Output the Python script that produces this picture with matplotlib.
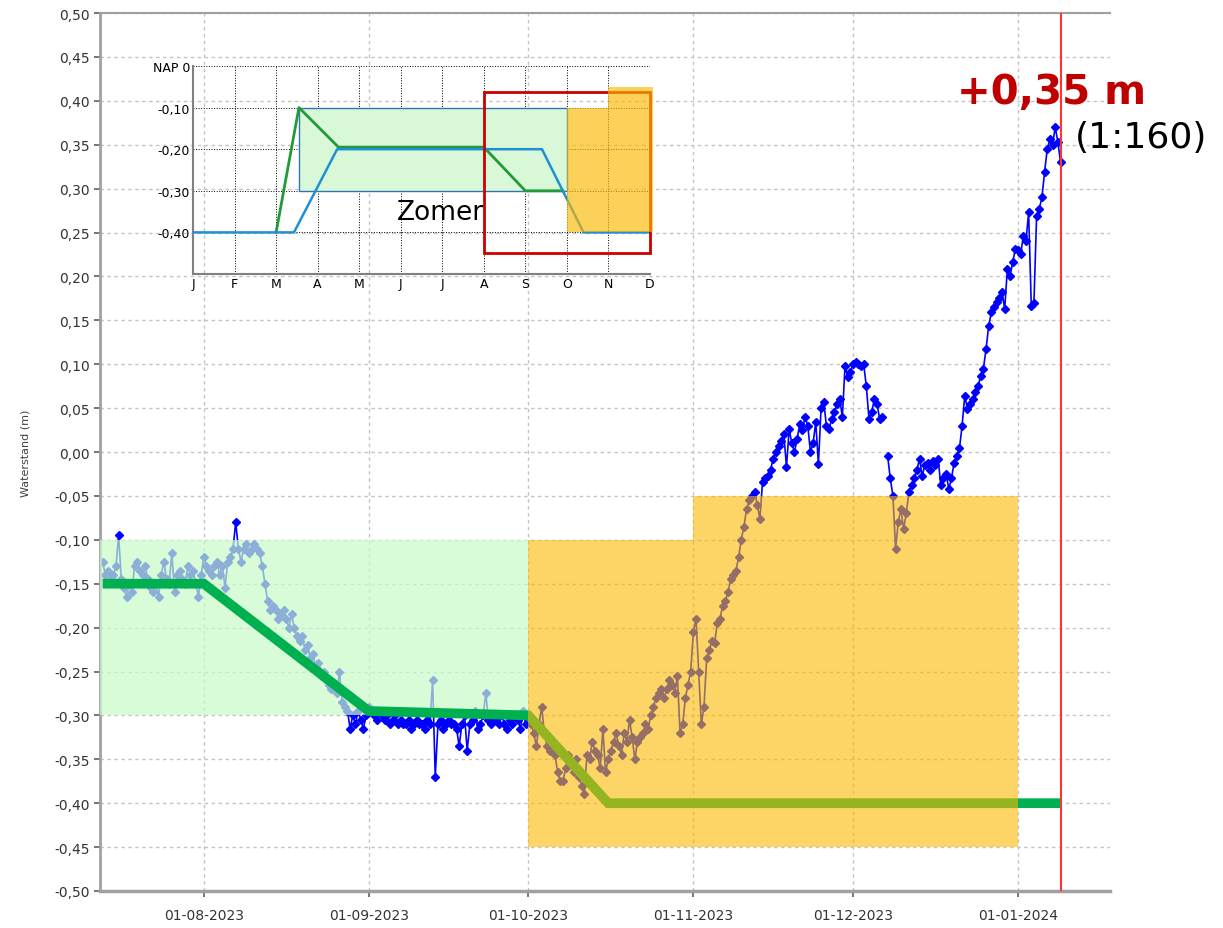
import numpy as np
import pandas as pd
import matplotlib
matplotlib.use("Agg")
import matplotlib.pyplot as plt
import matplotlib.dates as mdates
from matplotlib.patches import Rectangle
from matplotlib.ticker import FuncFormatter

# measured water level (m NAP), two readings per day, one list per month
level_jul = [  # 13-31 Jul 2023
    -0.125, -0.14, -0.135, -0.145, -0.14, -0.13, -0.095, -0.145, -0.155, -0.165,
    -0.15, -0.16, -0.13, -0.125, -0.135, -0.14, -0.13, -0.145, -0.155, -0.16,
    -0.15, -0.165, -0.14, -0.125, -0.145, -0.15, -0.115, -0.16, -0.14, -0.135,
    -0.145, -0.15, -0.13, -0.14, -0.135, -0.15, -0.165, -0.14,
]
level_aug = [
    -0.12, -0.13, -0.135, -0.14, -0.13, -0.125, -0.14, -0.13,
    -0.155, -0.125, -0.12, -0.11, -0.08, -0.11, -0.125, -0.11,
    -0.105, -0.115, -0.11, -0.105, -0.11, -0.115, -0.13, -0.15,
    -0.17, -0.18, -0.175, -0.18, -0.19, -0.185, -0.18, -0.19,
    -0.20, -0.185, -0.20, -0.21, -0.215, -0.21, -0.225, -0.22,
    -0.235, -0.23, -0.245, -0.24, -0.255, -0.25, -0.26, -0.265,
    -0.27, -0.265, -0.275, -0.25, -0.285, -0.29, -0.295, -0.315,
    -0.30, -0.31, -0.295, -0.305, -0.315, -0.30,
]
level_sep = [
    -0.29, -0.295, -0.30, -0.305, -0.295, -0.30, -0.305, -0.30,
    -0.31, -0.305, -0.30, -0.31, -0.305, -0.31, -0.31, -0.305,
    -0.315, -0.31, -0.305, -0.31, -0.31, -0.315, -0.305, -0.31,
    -0.26, -0.37, -0.31, -0.305, -0.315, -0.31, -0.305, -0.31,
    -0.31, -0.315, -0.335, -0.31, -0.30, -0.34, -0.31, -0.305,
    -0.295, -0.315, -0.31, -0.30, -0.275, -0.305, -0.31, -0.30,
    -0.305, -0.31, -0.30, -0.31, -0.315, -0.305, -0.31, -0.30,
    -0.305, -0.315, -0.295, -0.31,
]
level_oct = [
    -0.30, -0.31, -0.32, -0.335, -0.31, -0.29, -0.32, -0.335,
    -0.34, -0.33, -0.345, -0.365, -0.375, -0.375, -0.36, -0.345,
    -0.355, -0.365, -0.35, -0.37, -0.38, -0.39, -0.345, -0.35,
    -0.33, -0.34, -0.345, -0.36, -0.315, -0.365, -0.35, -0.34,
    -0.33, -0.32, -0.335, -0.345, -0.32, -0.33, -0.305, -0.325,
    -0.35, -0.33, -0.325, -0.32, -0.31, -0.315, -0.30, -0.29,
    -0.28, -0.275, -0.27, -0.28, -0.27, -0.26, -0.265, -0.275,
    -0.255, -0.32, -0.31, -0.28, -0.265, -0.25,
]
level_nov = [
    -0.205, -0.19, -0.25, -0.31, -0.29, -0.235, -0.225, -0.215,
    -0.217, -0.195, -0.19, -0.175, -0.17, -0.16, -0.145, -0.14,
    -0.135, -0.12, -0.10, -0.085, -0.065, -0.055, -0.05, -0.045,
    -0.06, -0.076, -0.034, -0.03, -0.027, -0.02, -0.008, 0.0,
    0.007, 0.012, 0.02, -0.017, 0.026, 0.01, 0.0, 0.015,
    0.032, 0.025, 0.04, 0.03, 0.0, 0.01, 0.034, -0.014,
    0.05, 0.057, 0.03, 0.026, 0.038, 0.045, 0.055, 0.06,
    0.04, 0.098, 0.085, 0.091,
]
level_dec = [
    0.10, 0.102, 0.10, 0.098, 0.10, 0.075, 0.038, 0.045,
    0.06, 0.055, 0.038, 0.04, np.nan, -0.004, -0.03, -0.05,
    -0.11, -0.08, -0.065, -0.088, -0.07, -0.046, -0.038, -0.03,
    -0.02, -0.008, -0.027, -0.015, -0.012, -0.02, -0.01, -0.015,
    -0.008, -0.038, -0.03, -0.025, -0.042, -0.03, -0.012, -0.005,
    0.004, 0.03, 0.064, 0.049, 0.055, 0.06, 0.068, 0.075,
    0.087, 0.095, 0.117, 0.144, 0.159, 0.165, 0.171, 0.175,
    0.182, 0.163, 0.208, 0.20, 0.216, 0.231,
]
level_jan = [
    0.23, 0.225, 0.246, 0.24, 0.273, 0.166, 0.17, 0.269,
    0.277, 0.29, 0.319, 0.345, 0.356, 0.35, 0.37, 0.353,
    0.33,
]
month_starts = ["2023-07-13", "2023-08-01", "2023-09-01", "2023-10-01",
                "2023-11-01", "2023-12-01", "2024-01-01"]

# target level (streefpeil)
target_dates = ["2023-07-13", "2023-08-01", "2023-09-01", "2023-10-01",
                "2023-10-16", "2024-01-09"]
target_levels = [-0.15, -0.15, -0.295, -0.30, -0.40, -0.40]

# inset: yearly target level scheme
inset_months = ["J", "F", "M", "A", "M", "J", "J", "A", "S", "O", "N", "D"]
inset_green_x = [2.0, 2.55, 3.5, 7.0, 8.0, 8.9]
inset_green_y = [-0.40, -0.10, -0.195, -0.195, -0.30, -0.30]
inset_blue_x = [0.0, 2.43, 3.47, 8.4, 9.4, 11.0]
inset_blue_y = [-0.40, -0.40, -0.20, -0.20, -0.40, -0.40]

GREEN_FILL = (200 / 255, 250 / 255, 200 / 255)
ORANGE = (250 / 255, 185 / 255, 0)


def comma(v, pos=None):
    v = round(v, 2)
    if v == 0:
        v = 0.0
    return f"{v:.2f}".replace(".", ",")


def main():
    series = [level_jul, level_aug, level_sep, level_oct, level_nov, level_dec, level_jan]
    parts = []
    for start, vals in zip(month_starts, series):
        idx = pd.date_range(start, periods=len(vals), freq="12h")
        parts.append(pd.Series(vals, index=idx))
    level = pd.concat(parts)

    fig = plt.figure(figsize=(12.23, 9.29), dpi=100)
    ax = fig.add_axes([100 / 1223, 37 / 929, 1010 / 1223, 878 / 929])

    ax.plot(level.index, level.values, "-D", color="#0000ff", lw=1.2,
            markersize=4, zorder=2)

    # summer band (green) and autumn/winter band (orange)
    ax.fill_between(pd.to_datetime(["2023-07-01", "2023-10-01"]), -0.30, -0.10,
                    color=GREEN_FILL, alpha=0.7, lw=0, zorder=3)
    ax.plot(pd.to_datetime(target_dates), target_levels, color="#00b050", lw=7,
            solid_capstyle="butt", solid_joinstyle="miter", zorder=4)
    ax.fill_between(pd.to_datetime(["2023-10-01", "2023-11-01"]), -0.45, -0.10,
                    color=ORANGE, alpha=0.6, lw=0, zorder=5)
    ax.fill_between(pd.to_datetime(["2023-11-01", "2024-01-01"]), -0.45, -0.05,
                    color=ORANGE, alpha=0.6, lw=0, zorder=5)
    ax.axvline(pd.Timestamp("2024-01-09"), color="#ff3333", lw=1.5, zorder=6)

    ax.set_xlim(pd.Timestamp("2023-07-12 12:00"), pd.Timestamp("2024-01-18 07:00"))
    ax.set_ylim(-0.5, 0.5)
    ax.set_yticks(np.arange(-0.5, 0.501, 0.05))
    ax.yaxis.set_major_formatter(FuncFormatter(comma))
    ax.xaxis.set_major_locator(mdates.MonthLocator())
    ax.xaxis.set_major_formatter(mdates.DateFormatter("%d-%m-%Y"))
    ax.tick_params(labelsize=10, labelcolor="#333333", color="#606060",
                   length=4, width=1.2)
    ax.tick_params(axis="x", pad=8)
    ax.set_axisbelow(True)
    ax.grid(True, color="#c4c4c4", linestyle=(0, (2.5, 2.5)), lw=1)
    for side in ("left", "bottom", "top"):
        ax.spines[side].set_color("#a0a0a0")
    ax.spines["left"].set_linewidth(2)
    ax.spines["bottom"].set_linewidth(2.5)
    ax.spines["top"].set_linewidth(1.5)
    ax.spines["right"].set_visible(False)
    ax.set_ylabel("Waterstand (m)", fontsize=8, color="#404040")
    ax.yaxis.set_label_coords(-0.069, 0.5)

    fig.text(957 / 1223, (929 - 104) / 929, "+0,35 m", fontsize=29,
             fontweight="bold", color="#c00000", ha="left", va="baseline")
    fig.text(1075 / 1223, (929 - 148) / 929, "(1:160)", fontsize=26,
             color="black", ha="left", va="baseline")

    # inset with the yearly scheme
    ins = fig.add_axes([193 / 1223, (929 - 275) / 929, 457 / 1223, 208 / 929])
    ins.set_facecolor("none")
    ins.set_xlim(0, 11)
    ins.set_ylim(-0.5, 0)
    ins.add_patch(Rectangle((2.55, -0.30), 9.0 - 2.55, 0.20, facecolor="#d8f8d8",
                            edgecolor="#2e75b6", lw=1, zorder=2))
    ins.plot(inset_green_x, inset_green_y, color="#229a3a", lw=2, zorder=3)
    ins.plot(inset_blue_x, inset_blue_y, color="#1f8fd6", lw=1.8, zorder=4)
    ins.add_patch(Rectangle((7.0, -0.45), 4.0, 0.387, facecolor="none",
                            edgecolor="#cc0000", lw=2, zorder=5, clip_on=False))
    ins.add_patch(Rectangle((9.0, -0.40), 1.0, 0.30, facecolor=ORANGE, alpha=0.65,
                            lw=0, zorder=6, clip_on=False))
    ins.add_patch(Rectangle((10.0, -0.40), 1.07, 0.35, facecolor=ORANGE, alpha=0.65,
                            lw=0, zorder=6, clip_on=False))
    ins.text(7.0, -0.35, "Zomer", ha="right", va="center", fontsize=19, zorder=7)

    ins.set_xticks(range(12))
    ins.set_xticklabels(inset_months)
    ins.set_yticks([0, -0.1, -0.2, -0.3, -0.4])
    ins.set_yticklabels(["NAP 0", "-0,10", "-0,20", "-0,30", "-0,40"])
    ins.tick_params(labelsize=9, length=0, pad=2)
    ins.grid(True, color="black", linestyle=":", lw=0.7)
    for side in ("top", "right"):
        ins.spines[side].set_visible(False)
    for side in ("left", "bottom"):
        ins.spines[side].set_color("#808080")
        ins.spines[side].set_linewidth(1.5)

    fig.savefig("out.png", dpi=100)


if __name__ == "__main__":
    main()
